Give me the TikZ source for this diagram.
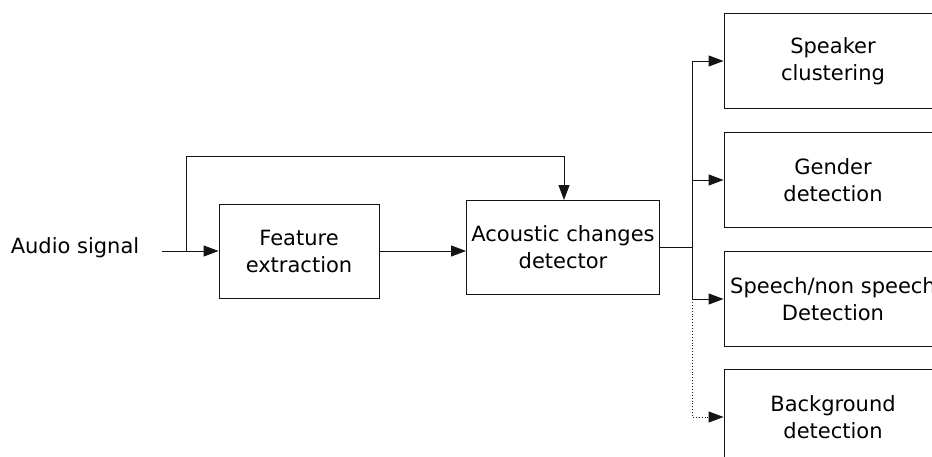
\documentclass[tikz,border=0pt]{standalone}
\usepackage{fontspec}
\setmainfont{DejaVu Sans}
\usetikzlibrary{arrows.meta}

\definecolor{lineColor}{RGB}{ 20, 20, 20}

\begin{document}
\begin{tikzpicture}[
  x=1pt, y=-1pt,
  every node/.style={font=\fontsize{21}{27}\selectfont, text=black},
  block/.style     ={draw=lineColor, line width=0.9pt, align=center, inner sep=0pt},
  block feat/.style={block, minimum width=160pt, minimum height=94pt},
  block acd/.style ={block, minimum width=193pt, minimum height=94pt},
  block out/.style ={block, minimum width=218pt, minimum height=95pt},
  link/.style      ={draw=lineColor, line width=0.9pt},
  link arr/.style  ={link, -{Triangle[length=15pt, width=11pt]}},
]
%%%%%%%%%%%%%%%%%%%%%%%%%%%%%%%%%%%%%%%%%%%%%%%%%%%%%%%%%%%%%%%%%%%%%%%%%%%%%%%%%%%%%%%%%
%
%   BLOCKS
%
%%%%%%%%%%%%%%%%%%%%%%%%%%%%%%%%%%%%%%%%%%%%%%%%%%%%%%%%%%%%%%%%%%%%%%%%%%%%%%%%%%%%%%%%%
\useasboundingbox (0,0) rectangle (932,456);

\node (audio)  at ( 75,248) {Audio signal};
\node[block feat] (feat)   at (299,251) {Feature\\extraction};
\node[block acd]  (acd)    at (563,247) {Acoustic changes\\detector};

\node[block out]  (spk)    at (833, 61) {Speaker\\clustering};
\node[block out]  (gender) at (833,180) {Gender\\detection};
\node[block out]  (speech) at (833,299) {Speech/non speech\\Detection};
\node[block out]  (bg)     at (833,417) {Background\\detection};

%%%%%%%%%%%%%%%%%%%%%%%%%%%%%%%%%%%%%%%%%%%%%%%%%%%%%%%%%%%%%%%%%%%%%%%%%%%%%%%%%%%%%%%%%
%
%   CONNECTIONS
%
%%%%%%%%%%%%%%%%%%%%%%%%%%%%%%%%%%%%%%%%%%%%%%%%%%%%%%%%%%%%%%%%%%%%%%%%%%%%%%%%%%%%%%%%%
\coordinate (in)     at (162,251);
\coordinate (tap)    at (186,251);
\coordinate (split)  at (692,247);

\draw[link arr] (in) -- (feat.west |- in);
\draw[link arr] (feat.east |- in) -- (acd.west |- in);

%% bypass over the feature block
\draw[link arr] (tap) |- (564,156) -- (564,200);

%% fan out to the classifiers
\draw[link] (acd.east |- split) -- (split);
\draw[link] (split |- spk.west) -- (split |- speech.west);
\foreach \target in {spk, gender, speech}
  \draw[link arr] (split |- \target.west) -- (\target.west);
\draw[link arr, dotted] (split |- speech.west) |- (bg.west);

\end{tikzpicture}
\end{document}
